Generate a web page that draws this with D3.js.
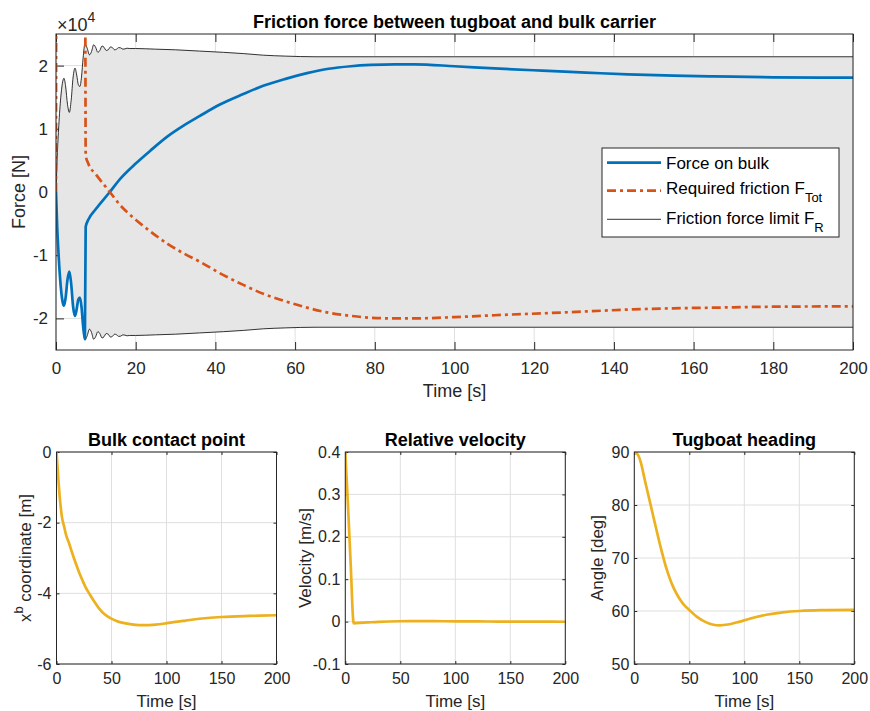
<!DOCTYPE html>
<html>
<head>
<meta charset="utf-8">
<script src="https://cdn.jsdelivr.net/npm/d3@7"></script>
<style>
  body { margin: 0; background: #fff; }
  svg { font-family: "Liberation Sans", Arial, Helvetica, sans-serif; }
</style>
</head>
<body>
<div id="chart"></div>
<script>
// ---- main plot: forces in units of 1e4 N ----
var tLimit = [0, 0.3, 0.7, 1.2, 1.6, 2.0, 2.4, 2.9, 3.35, 3.8, 4.3, 4.76, 5.2, 5.6, 6.0, 6.4, 6.8, 7.25,
  7.8, 8.4, 8.9, 9.45, 9.95, 10.5, 11.0, 11.55, 12.05, 12.6, 13.1, 13.65, 14.15, 14.7, 15.2, 15.75,
  16.25, 16.8, 17.3, 17.85, 18.5, 20, 25, 30, 36, 42, 47, 52, 57.6, 65, 80, 100, 120, 140, 160, 180, 200];
var frictionLimit = [0, 0.55, 1.05, 1.5, 1.72, 1.80, 1.68, 1.38, 1.26, 1.45, 1.82, 1.96, 1.85, 1.70, 1.67, 1.82, 2.12, 2.34,
  2.28, 2.17, 2.22, 2.33, 2.29, 2.21, 2.24, 2.31, 2.29, 2.24, 2.25, 2.295, 2.285, 2.25, 2.26, 2.285,
  2.28, 2.26, 2.265, 2.275, 2.27, 2.27, 2.26, 2.25, 2.23, 2.21, 2.19, 2.165, 2.15, 2.14, 2.14, 2.14, 2.14, 2.14, 2.14, 2.14, 2.14];

var tBulk = [0, 0.3, 0.7, 1.2, 1.6, 2.0, 2.4, 2.9, 3.35, 3.8, 4.3, 4.76, 5.2, 5.6, 6.0, 6.4, 6.8, 7.25,
  7.45, 8.1, 10, 13.5, 16, 20, 23.6, 28, 32, 36, 41, 47, 52, 57.6, 63, 68.4, 74, 79, 85, 90, 100, 110,
  122, 133, 143.5, 155, 165, 180, 200];
var bulkForce = [0, -0.55, -1.05, -1.5, -1.72, -1.80, -1.68, -1.38, -1.26, -1.45, -1.82, -1.96, -1.85, -1.70, -1.67, -1.82, -2.12, -2.33,
  -0.55, -0.44, -0.27, 0.0, 0.2, 0.45, 0.65, 0.88, 1.05, 1.2, 1.38, 1.55, 1.68, 1.79, 1.88, 1.95, 1.99, 2.01, 2.02, 2.02, 1.99, 1.955,
  1.92, 1.89, 1.86, 1.84, 1.83, 1.815, 1.81];

var tReq = [0, 0.08, 7.3, 7.45, 8.1, 10, 13.5, 16, 20, 23.6, 28, 32, 36, 41, 47, 52, 57.6, 63, 68.4, 74, 79, 85, 90, 100, 110,
  122, 133, 143.5, 155, 165, 180, 200];
var requiredFriction = [0, 4, 4, 0.58, 0.45, 0.28, 0.0, -0.2, -0.44, -0.62, -0.82, -0.97, -1.1, -1.28, -1.47, -1.61, -1.73, -1.83, -1.91, -1.96, -1.99, -2.0, -2.0, -1.98, -1.95,
  -1.92, -1.89, -1.86, -1.84, -1.83, -1.815, -1.81];

var mainXTicks = [0, 20, 40, 60, 80, 100, 120, 140, 160, 180, 200];
var mainYTicks = [-2, -1, 0, 1, 2];

// ---- bottom plots ----
var tContact = [0, 1, 2, 3, 4, 5, 6, 7, 9, 11.5, 14.5, 17.5, 20.5, 23.6, 26.5, 29.7, 34, 38.8, 44, 49.4, 56, 63, 70,
  79.7, 90, 99.4, 110, 117.5, 130, 150, 175, 200];
var contactX = [0, -0.45, -0.9, -1.3, -1.6, -1.85, -2.0, -2.12, -2.38, -2.59, -2.88, -3.15, -3.4, -3.63, -3.83, -4.0, -4.22, -4.43, -4.6, -4.71, -4.8, -4.85, -4.885,
  -4.9, -4.885, -4.85, -4.8, -4.77, -4.72, -4.67, -4.64, -4.62];

var tVel = [0, 2.5, 5, 7.3, 7.6, 10, 20, 30, 50, 70, 90, 110, 130, 150, 175, 200];
var relVelocity = [0.4, 0.27, 0.13, 0.0, -0.004, -0.0035, -0.002, -0.0005, 0.0008, 0.001, 0.0008, 0.0005, 0.0002, 0.0, -0.0002, -0.0003];

var tHead = [0, 2, 4, 6, 8, 10, 14.3, 18, 23.4, 29.4, 35, 40, 45, 50, 57, 65, 72, 78, 85, 95, 105, 120, 135, 150, 170, 200];
var heading = [90, 89.8, 89.2, 88.0, 86.2, 84.3, 80.5, 77.2, 72.5, 67.9, 64.7, 62.7, 61.2, 60.2, 58.9, 57.9, 57.4, 57.3, 57.45, 57.95, 58.55, 59.3, 59.75, 60.0, 60.15, 60.2];

var smallXTicks = [0, 50, 100, 150, 200];
var contactYTicks = [-6, -4, -2, 0];
var velYTicks = [-0.1, 0, 0.1, 0.2, 0.3, 0.4];
var headYTicks = [50, 60, 70, 80, 90];

var ink = "#262626";
var gridColor = "#dfdfdf";

var svg = d3.select("#chart").append("svg")
    .attr("width", 870)
    .attr("height", 711);

var clipCount = 0;

function fmtPlain(d) {
    return d === 0 ? "0" : String(+d.toFixed(2));
}

function makePanel(box, xDomain, yDomain, xTicks, yTicks, o) {
    var x = d3.scaleLinear().domain(xDomain).range([box.left, box.right]);
    var y = d3.scaleLinear().domain(yDomain).range([box.bottom, box.top]);
    var g = svg.append("g");

    // grid
    g.append("g").selectAll("line").data(xTicks).join("line")
        .attr("x1", d => x(d)).attr("x2", d => x(d))
        .attr("y1", box.top).attr("y2", box.bottom)
        .attr("stroke", gridColor).attr("stroke-width", 1);
    g.append("g").selectAll("line").data(yTicks).join("line")
        .attr("x1", box.left).attr("x2", box.right)
        .attr("y1", d => y(d)).attr("y2", d => y(d))
        .attr("stroke", gridColor).attr("stroke-width", 1);

    // ticks on all four sides, pointing inwards
    var tl = o.tickLen;
    var axB = g.append("g").attr("transform", "translate(0," + box.bottom + ")")
        .call(d3.axisBottom(x).tickValues(xTicks).tickSize(-tl).tickPadding(o.xPad).tickFormat(fmtPlain));
    var axL = g.append("g").attr("transform", "translate(" + box.left + ",0)")
        .call(d3.axisLeft(y).tickValues(yTicks).tickSize(-tl).tickPadding(o.yPad).tickFormat(fmtPlain));
    var axT = g.append("g").attr("transform", "translate(0," + box.top + ")")
        .call(d3.axisTop(x).tickValues(xTicks).tickSize(-tl).tickFormat(""));
    var axR = g.append("g").attr("transform", "translate(" + box.right + ",0)")
        .call(d3.axisRight(y).tickValues(yTicks).tickSize(-tl).tickFormat(""));
    [axB, axL, axT, axR].forEach(function (a) {
        a.select(".domain").remove();
        a.selectAll("line").attr("stroke", ink);
        a.selectAll("text").attr("fill", ink).attr("font-size", o.tickFont)
            .attr("font-family", "Liberation Sans, Arial, sans-serif");
    });

    clipCount++;
    var clipId = "clip" + clipCount;
    svg.append("clipPath").attr("id", clipId).append("rect")
        .attr("x", box.left).attr("y", box.top)
        .attr("width", box.right - box.left).attr("height", box.bottom - box.top);
    var data = svg.append("g").attr("clip-path", "url(#" + clipId + ")");

    var frame = svg.append("rect")
        .attr("x", box.left).attr("y", box.top)
        .attr("width", box.right - box.left).attr("height", box.bottom - box.top)
        .attr("fill", "none").attr("stroke", ink).attr("stroke-width", 1);

    // title and labels
    svg.append("text")
        .attr("x", (box.left + box.right) / 2).attr("y", o.titleY)
        .attr("text-anchor", "middle").attr("font-weight", "bold")
        .attr("font-size", o.titleFont).attr("fill", "#000")
        .text(o.title);
    svg.append("text")
        .attr("x", (box.left + box.right) / 2).attr("y", o.xLabelY)
        .attr("text-anchor", "middle").attr("font-size", o.labelFont).attr("fill", ink)
        .text("Time [s]");

    return { x: x, y: y, data: data, frame: frame };
}

function pairs(ts, vs) {
    return ts.map(function (t, i) { return [t, vs[i]]; });
}

// ---------------- main panel ----------------
var mainBox = { left: 56, right: 853, top: 34, bottom: 350 };
var main = makePanel(mainBox, [0, 200], [-2.5, 2.5], mainXTicks, mainYTicks, {
    tickLen: 8, xPad: 12, yPad: 8, tickFont: 17, labelFont: 18, titleFont: 18,
    title: "Friction force between tugboat and bulk carrier", titleY: 28, xLabelY: 397
});

var limitArea = d3.area()
    .x(d => main.x(d[0]))
    .y0(d => main.y(-d[1]))
    .y1(d => main.y(d[1]))
    .curve(d3.curveMonotoneX);
var limitPts = pairs(tLimit, frictionLimit);

main.data.append("path").datum(limitPts)
    .attr("d", limitArea).attr("fill", "#e6e6e6");

var lineUp = d3.line().x(d => main.x(d[0])).y(d => main.y(d[1])).curve(d3.curveMonotoneX);
var lineDown = d3.line().x(d => main.x(d[0])).y(d => main.y(-d[1])).curve(d3.curveMonotoneX);
main.data.append("path").datum(limitPts).attr("d", lineUp)
    .attr("fill", "none").attr("stroke", "#000").attr("stroke-width", 0.8);
main.data.append("path").datum(limitPts).attr("d", lineDown)
    .attr("fill", "none").attr("stroke", "#000").attr("stroke-width", 0.8);

main.data.append("path").datum(pairs(tBulk, bulkForce)).attr("d", lineUp)
    .attr("fill", "none").attr("stroke", "#0072BD").attr("stroke-width", 2.7)
    .attr("stroke-linejoin", "round");
main.data.append("path").datum(pairs(tReq, requiredFriction)).attr("d", lineUp)
    .attr("fill", "none").attr("stroke", "#D95319").attr("stroke-width", 2.7)
    .attr("stroke-dasharray", "9,4,3,4");

main.frame.raise();

// exponent
var expo = svg.append("text").attr("x", 57).attr("y", 31)
    .attr("font-size", 18).attr("fill", ink).text("\u00d710");
expo.append("tspan").attr("dy", -9).attr("font-size", 14).text("4");

// y label
svg.append("text")
    .attr("transform", "translate(25," + main.y(0) + ") rotate(-90)")
    .attr("text-anchor", "middle").attr("font-size", 18).attr("fill", ink)
    .text("Force [N]");

// legend
var leg = svg.append("g");
leg.append("rect").attr("x", 602).attr("y", 148).attr("width", 237).attr("height", 89)
    .attr("fill", "#fff").attr("stroke", ink).attr("stroke-width", 1);
var legItems = [
    { label: "Force on bulk", sub: "", color: "#0072BD", width: 2.7, dash: null, ly: 162.7, ty: 168.5 },
    { label: "Required friction F", sub: "Tot", color: "#D95319", width: 2.7, dash: "9,4,3,4", ly: 190.7, ty: 193.5 },
    { label: "Friction force limit F", sub: "R", color: "#000", width: 0.8, dash: null, ly: 219.3, ty: 223.5 }
];
legItems.forEach(function (it) {
    leg.append("line").attr("x1", 607).attr("x2", 661).attr("y1", it.ly).attr("y2", it.ly)
        .attr("stroke", it.color).attr("stroke-width", it.width)
        .attr("stroke-dasharray", it.dash);
    var tx = leg.append("text").attr("x", 666).attr("y", it.ty)
        .attr("font-size", 17).attr("fill", "#000").text(it.label);
    if (it.sub) {
        tx.append("tspan").attr("dy", 8).attr("font-size", 13).text(it.sub);
    }
});

// ---------------- bottom panels ----------------
var smallOpts = { tickLen: 3, xPad: 9, yPad: 5, tickFont: 16, labelFont: 17, titleFont: 18, titleY: 446, xLabelY: 707 };

function smallPanel(left, yDomain, yTicks, title, ts, vs, curve) {
    var box = { left: left, right: left + 220, top: 452, bottom: 664 };
    var p = makePanel(box, [0, 200], yDomain, smallXTicks, yTicks, Object.assign({ title: title }, smallOpts));
    var line = d3.line().x(d => p.x(d[0])).y(d => p.y(d[1])).curve(curve);
    p.data.append("path").datum(pairs(ts, vs)).attr("d", line)
        .attr("fill", "none").attr("stroke", "#EDB120").attr("stroke-width", 2.7)
        .attr("stroke-linejoin", "round");
    p.frame.raise();
    return p;
}

var p1 = smallPanel(56.5, [-6, 0], contactYTicks, "Bulk contact point", tContact, contactX, d3.curveCatmullRom);
var p2 = smallPanel(345.3, [-0.1, 0.4], velYTicks, "Relative velocity", tVel, relVelocity, d3.curveMonotoneX);
var p3 = smallPanel(634.3, [50, 90], headYTicks, "Tugboat heading", tHead, heading, d3.curveCatmullRom);

var yl1 = svg.append("text")
    .attr("transform", "translate(31," + p1.y(-3) + ") rotate(-90)")
    .attr("text-anchor", "middle").attr("font-size", 17).attr("fill", ink)
    .text("x");
yl1.append("tspan").attr("dy", -8).attr("font-size", 13).text("b");
yl1.append("tspan").attr("dy", 8).text(" coordinate [m]");

svg.append("text")
    .attr("transform", "translate(311," + p2.y(0.15) + ") rotate(-90)")
    .attr("text-anchor", "middle").attr("font-size", 17).attr("fill", ink)
    .text("Velocity [m/s]");

svg.append("text")
    .attr("transform", "translate(603," + p3.y(70) + ") rotate(-90)")
    .attr("text-anchor", "middle").attr("font-size", 17).attr("fill", ink)
    .text("Angle [deg]");
</script>
</body>
</html>
